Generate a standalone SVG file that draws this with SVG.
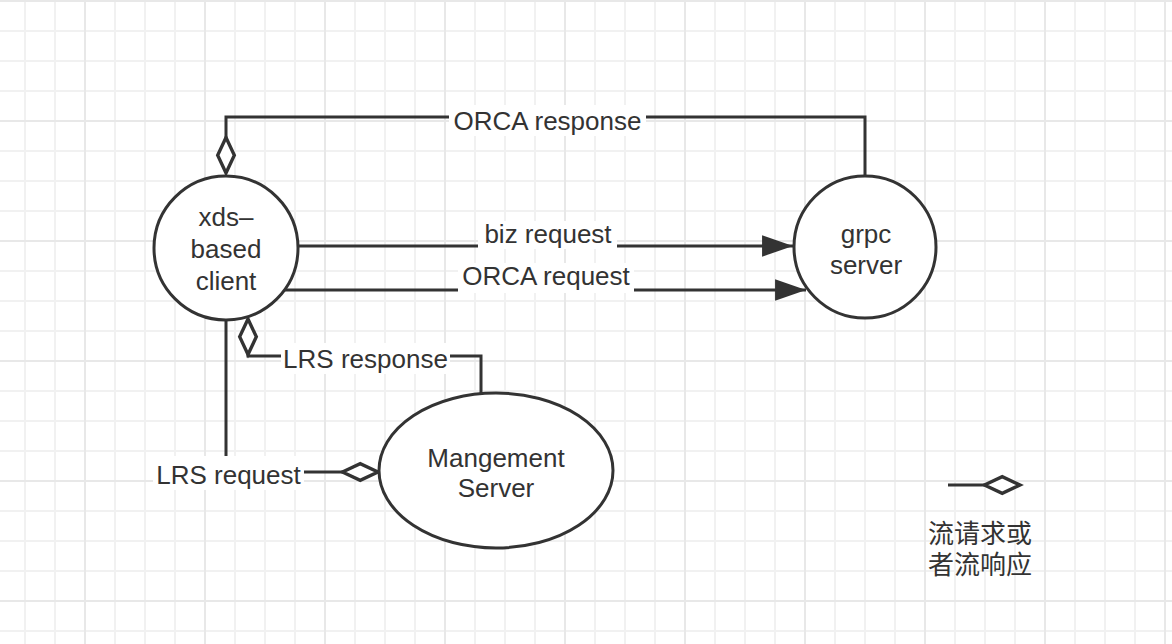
<svg xmlns="http://www.w3.org/2000/svg" width="1172" height="644" viewBox="0 0 1172 644">
  <defs>
    <pattern id="gridMinor" x="0" y="0" width="30" height="30" patternUnits="userSpaceOnUse">
      <rect x="24" y="0" width="2" height="30" fill="#f1f1f1"/>
      <rect x="0" y="0" width="30" height="2" fill="#f1f1f1"/>
    </pattern>
    <pattern id="gridMajor" x="0" y="0" width="120" height="120" patternUnits="userSpaceOnUse">
      <rect x="84" y="0" width="2" height="120" fill="#e8e8e8"/>
      <rect x="0" y="0" width="120" height="2" fill="#e8e8e8"/>
    </pattern>
    <marker id="diamond" markerUnits="userSpaceOnUse" markerWidth="40" markerHeight="24" viewBox="-2 -10 36 20" refX="32" refY="0" orient="auto" overflow="visible">
      <path d="M0,0 L16,-7.5 L32,0 L16,7.5 Z" fill="#ffffff" stroke="#333333" stroke-width="3" stroke-linejoin="miter"/>
    </marker>
    <marker id="arrow" markerUnits="userSpaceOnUse" markerWidth="32" markerHeight="24" viewBox="0 -11 30 22" refX="29" refY="0" orient="auto" overflow="visible">
      <path d="M0,-10 L29,0 L0,10 Z" fill="#333333"/>
    </marker>
  </defs>
  <style>
    .node { fill: #ffffff; stroke: #333333; stroke-width: 3; }
    .conn { fill: none; stroke: #333333; stroke-width: 3; }
    .txt { font-family: "Liberation Sans", Arial, sans-serif; font-size: 26px; fill: #333333; text-anchor: middle; }
    .cjk { font-family: "Noto Sans CJK SC", "Noto Sans CJK JP", sans-serif; font-size: 26px; fill: #333333; }
    .lblbg { fill: #ffffff; }
  </style>

  <rect x="0" y="0" width="1172" height="644" fill="#ffffff"/>
  <rect x="0" y="0" width="1172" height="644" fill="url(#gridMinor)"/>
  <rect x="0" y="0" width="1172" height="644" fill="url(#gridMajor)"/>

  <g id="connectors">
    <path class="conn" d="M865,176 V117 H226 V173" marker-end="url(#diamond)"/>
    <path class="conn" d="M297,246 H793" marker-end="url(#arrow)"/>
    <path class="conn" d="M283,290 H806" marker-end="url(#arrow)"/>
    <path class="conn" d="M481,394 V356 H248 V319" marker-end="url(#diamond)"/>
    <path class="conn" d="M226,320 V472 H378" marker-end="url(#diamond)"/>

    <rect class="lblbg" x="449" y="105" width="197" height="31"/>
    <text class="txt" x="547.5" y="130">ORCA response</text>

    <rect class="lblbg" x="478" y="221" width="139" height="28"/>
    <text class="txt" x="548" y="243">biz request</text>

    <rect class="lblbg" x="458" y="263" width="176" height="30"/>
    <text class="txt" x="546" y="285">ORCA request</text>

    <rect class="lblbg" x="281" y="343" width="169" height="31"/>
    <text class="txt" x="365.5" y="368">LRS response</text>

    <rect class="lblbg" x="153" y="456" width="151" height="34"/>
    <text class="txt" x="228.5" y="484">LRS request</text>
  </g>

  <g id="node-client">
    <circle class="node" cx="226" cy="248" r="72"/>
    <text class="txt" x="226" y="226">xds–</text>
    <text class="txt" x="226" y="258">based</text>
    <text class="txt" x="226" y="290">client</text>
  </g>

  <g id="node-grpc-server">
    <circle class="node" cx="865" cy="247" r="71"/>
    <text class="txt" x="866" y="243">grpc</text>
    <text class="txt" x="866" y="274">server</text>
  </g>

  <g id="node-management-server">
    <ellipse class="node" cx="496" cy="470.5" rx="117" ry="77.5"/>
    <text class="txt" x="496" y="467">Mangement</text>
    <text class="txt" x="496" y="497">Server</text>
  </g>

  <g id="legend">
    <path class="conn" d="M948,485 H1020" marker-end="url(#diamond)"/>
    <text class="cjk"><tspan x="928" y="543">流请求或</tspan><tspan x="928" y="574">者流响应</tspan></text>
  </g>
</svg>
